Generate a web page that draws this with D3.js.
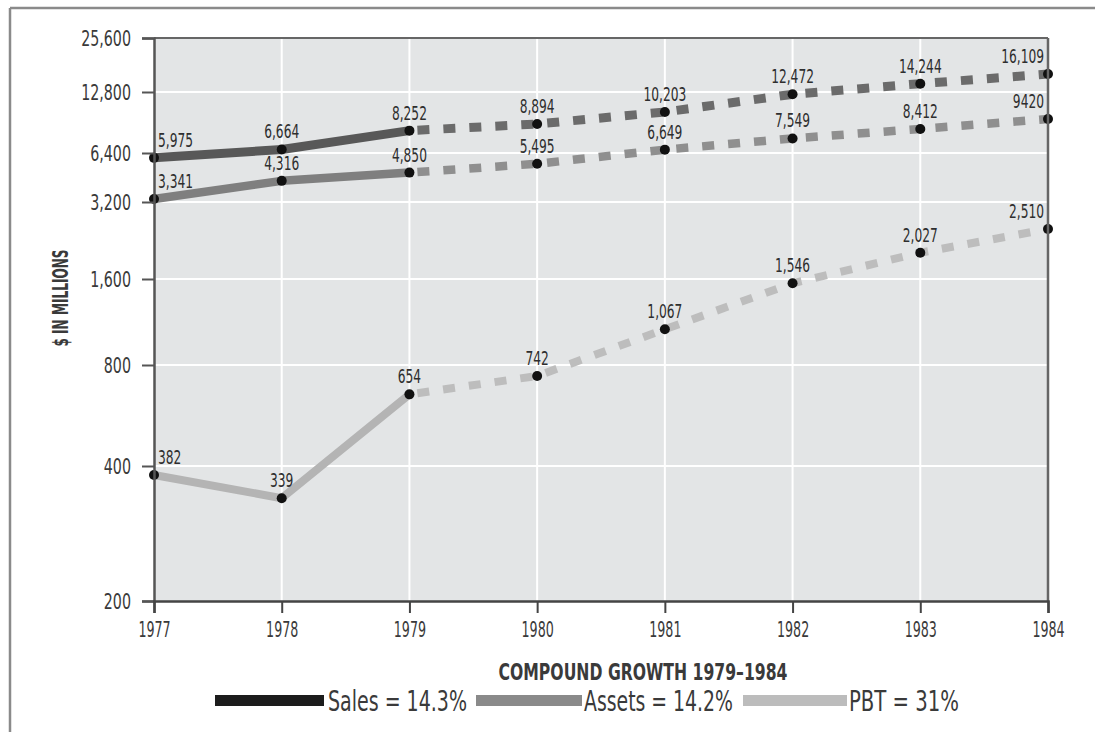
<!DOCTYPE html>
<html>
<head>
<meta charset="utf-8">
<script src="https://cdn.jsdelivr.net/npm/d3@7/dist/d3.min.js"></script>
<style>
  html, body { margin: 0; padding: 0; background: #ffffff; }
  svg { display: block; }
  text { font-family: "Liberation Sans Narrow", "DejaVu Sans Condensed", "Liberation Sans", sans-serif; fill: #333; }
</style>
</head>
<body>
<svg id="chart" width="1095" height="732"></svg>
<script>
// ---------------- DATA ----------------
const years = [1977, 1978, 1979, 1980, 1981, 1982, 1983, 1984];
const sales  = [5975, 6664, 8252, 8894, 10203, 12472, 14244, 16109];
const assets = [3341, 4316, 4850, 5495, 6649, 7549, 8412, 9420];
const pbt    = [382, 339, 654, 742, 1067, 1546, 2027, 2510];
const salesLabels  = ["5,975", "6,664", "8,252", "8,894", "10,203", "12,472", "14,244", "16,109"];
const assetsLabels = ["3,341", "4,316", "4,850", "5,495", "6,649", "7,549", "8,412", "9420"];
const pbtLabels    = ["382", "339", "654", "742", "1,067", "1,546", "2,027", "2,510"];
const yTicks      = [200, 400, 800, 1600, 3200, 6400, 12800, 25600];
const yTickLabels = ["200", "400", "800", "1,600", "3,200", "6,400", "12,800", "25,600"];
const lastActualYear = 1979;
const seriesNames  = ["Sales", "Assets", "PBT"];
const seriesGrowth = ["14.3%", "14.2%", "31%"];
const yTitle = "$ IN MILLIONS";
const legendTitle = "COMPOUND GROWTH 1979\u20131984";

(function () {
// ---------------- LAYOUT ----------------
const svg = d3.select("#chart");
const pL = 154, pR = 1048, pT = 38, pB = 601;

const x = d3.scaleLinear().domain([1977, 1984]).range([pL, pR]);
// hand-drawn chart: doubling scale with uneven spacing -> piecewise log scale
const y = d3.scaleLog().domain(yTicks).range([601, 466, 365, 279, 202, 153, 92, 38]);

function condense(sel, factor) {
  sel.each(function () {
    const w = this.getComputedTextLength();
    d3.select(this).attr("textLength", w * factor).attr("lengthAdjust", "spacingAndGlyphs");
  });
}

// outer frame
svg.append("line").attr("x1", 10).attr("x2", 1095).attr("y1", 8).attr("y2", 8)
  .attr("stroke", "#8a8a8a").attr("stroke-width", 2.5);
svg.append("line").attr("x1", 10).attr("x2", 10).attr("y1", 8).attr("y2", 732)
  .attr("stroke", "#8a8a8a").attr("stroke-width", 2.5);

// plot background
svg.append("rect").attr("x", pL).attr("y", pT).attr("width", pR - pL).attr("height", pB - pT)
  .attr("fill", "#e3e5e6");

// grid
const grid = svg.append("g");
grid.selectAll(".hg").data(yTicks.slice(1, -1)).join("line")
  .attr("x1", pL).attr("x2", pR).attr("y1", d => y(d)).attr("y2", d => y(d))
  .attr("stroke", "#ffffff").attr("stroke-width", 2);
grid.selectAll(".vg").data(years.slice(1, -1)).join("line")
  .attr("x1", d => x(d)).attr("x2", d => x(d)).attr("y1", pT).attr("y2", pB)
  .attr("stroke", "#ffffff").attr("stroke-width", 2);

// series
const series = [
  { name: "Sales",  values: sales,  labels: salesLabels,  solid: "#585858", dash: "#6b6b6b", width: 9 },
  { name: "Assets", values: assets, labels: assetsLabels, solid: "#7f7f7f", dash: "#8f8f8f", width: 8.5 },
  { name: "PBT",    values: pbt,    labels: pbtLabels,    solid: "#b4b4b4", dash: "#bdbdbd", width: 8 }
];

const line = d3.line().x(d => x(d.year)).y(d => y(d.value));

series.forEach(s => {
  const pts = years.map((yr, i) => ({ year: yr, value: s.values[i], label: s.labels[i], i }));
  const actual = pts.filter(p => p.year <= lastActualYear);
  const proj = pts.filter(p => p.year >= lastActualYear);
  svg.append("path").datum(actual).attr("d", line)
    .attr("fill", "none").attr("stroke", s.solid).attr("stroke-width", s.width)
    .attr("stroke-linejoin", "round");
  svg.append("path").datum(proj).attr("d", line)
    .attr("fill", "none").attr("stroke", s.dash).attr("stroke-width", s.width)
    .attr("stroke-dasharray", "12,14").attr("stroke-dashoffset", -8);
  s.pts = pts;
});

// points and labels (drawn after all lines)
series.forEach(s => {
  svg.append("g").selectAll("circle").data(s.pts).join("circle")
    .attr("cx", d => x(d.year)).attr("cy", d => y(d.value)).attr("r", 5)
    .attr("fill", "#111");
  const lbl = svg.append("g").selectAll("text").data(s.pts).join("text")
    .attr("x", d => d.i === 0 ? x(d.year) + 4 : d.i === years.length - 1 ? x(d.year) - 4 : x(d.year))
    .attr("y", d => y(d.value) - 11)
    .attr("text-anchor", d => d.i === 0 ? "start" : d.i === years.length - 1 ? "end" : "middle")
    .style("font-size", "20px").style("fill", "#2e2e2e")
    .text(d => d.label);
  condense(lbl, 0.68);
});

// plot frame top / right
svg.append("line").attr("x1", pL).attr("x2", pR).attr("y1", pT).attr("y2", pT)
  .attr("stroke", "#666").attr("stroke-width", 2);
svg.append("line").attr("x1", pR).attr("x2", pR).attr("y1", pT).attr("y2", pB)
  .attr("stroke", "#666").attr("stroke-width", 2.5);

// axes
const yAxis = svg.append("g").attr("transform", `translate(${pL},0)`)
  .call(d3.axisLeft(y).tickValues(yTicks).tickFormat((d, i) => yTickLabels[i]).tickSize(12).tickPadding(11));
yAxis.attr("font-family", null).attr("font-size", null);
yAxis.select(".domain").attr("stroke", "#555").attr("stroke-width", 2.5);
yAxis.selectAll(".tick line").attr("stroke", "#555").attr("stroke-width", 2);
yAxis.selectAll(".tick text").style("font-size", "22px").style("fill", "#3a3a3a")
  .attr("dy", "0.36em");
condense(yAxis.selectAll(".tick text"), 0.72);

const xAxis = svg.append("g").attr("transform", `translate(0,${pB})`)
  .call(d3.axisBottom(x).tickValues(years).tickFormat(d3.format("d")).tickSize(12));
xAxis.attr("font-family", null).attr("font-size", null);
xAxis.select(".domain").attr("stroke", "#444").attr("stroke-width", 2.5);
xAxis.selectAll(".tick line").attr("stroke", "#444").attr("stroke-width", 2);
xAxis.selectAll(".tick text").style("font-size", "22px").style("fill", "#3a3a3a")
  .attr("y", 36).attr("dy", 0);
condense(xAxis.selectAll(".tick text"), 0.64);

// y title
svg.append("text")
  .attr("transform", "translate(68,298) rotate(-90)")
  .attr("text-anchor", "middle")
  .style("font-size", "22px").style("font-weight", "bold").style("fill", "#3a3a3a")
  .attr("textLength", 97).attr("lengthAdjust", "spacingAndGlyphs")
  .text(yTitle);

// legend
svg.append("text")
  .attr("x", 643).attr("y", 680).attr("text-anchor", "middle")
  .style("font-size", "23px").style("font-weight", "bold").style("fill", "#3a3a3a")
  .attr("textLength", 289).attr("lengthAdjust", "spacingAndGlyphs")
  .text(legendTitle);

const legendBars = [
  { x0: 215, x1: 324, color: "#1c1c1c", tx: 328, tw: 139 },
  { x0: 476, x1: 582, color: "#8a8a8a", tx: 584, tw: 149 },
  { x0: 743, x1: 847, color: "#bcbcbc", tx: 849, tw: 110 }
];
seriesNames.forEach((n, i) => {
  const b = legendBars[i];
  svg.append("rect").attr("x", b.x0).attr("y", 695).attr("width", b.x1 - b.x0).attr("height", 11)
    .attr("fill", b.color);
  svg.append("text").attr("x", b.tx).attr("y", 711)
    .style("font-size", "28px").style("fill", "#3a3a3a")
    .attr("textLength", b.tw).attr("lengthAdjust", "spacingAndGlyphs")
    .text(`${n} = ${seriesGrowth[i]}`);
});
})();
</script>
</body>
</html>
